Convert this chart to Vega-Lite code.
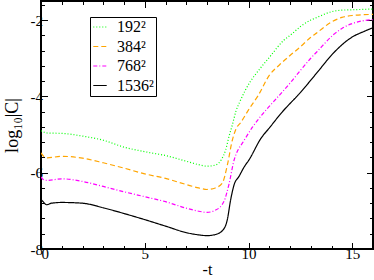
{
  "$schema": "https://vega.github.io/schema/vega-lite/v6.json",
  "autosize": {"type": "none"},
  "padding": {"left": 41, "top": 1, "right": 1, "bottom": 31},
  "width": 332,
  "height": 248,
  "background": "white",
  "config": {
    "font": "Liberation Serif",
    "view": {"stroke": "black", "strokeWidth": 2},
    "axis": {
      "grid": false, "domain": false, "tickColor": "black", "tickWidth": 1,
      "labelColor": "black", "titleColor": "black",
      "labelFont": "Liberation Serif", "titleFont": "Liberation Serif",
      "labelFontSize": 15, "titleFontSize": 18, "titleFontWeight": "normal"
    },
    "legend": {"labelFont": "Liberation Serif"}
  },
  "resolve": {"axis": {"x": "independent", "y": "independent"}},
  "layer": [
    {
      "data": {"values": [
        {"s": "192²", "x": 0, "y": -4.9}, {"s": "192²", "x": 0.3, "y": -4.96}, {"s": "192²", "x": 1, "y": -4.97}, {"s": "192²", "x": 2, "y": -5.04}, {"s": "192²", "x": 3, "y": -5.15}, {"s": "192²", "x": 4, "y": -5.33}, {"s": "192²", "x": 5, "y": -5.45}, {"s": "192²", "x": 6, "y": -5.55}, {"s": "192²", "x": 7, "y": -5.7}, {"s": "192²", "x": 7.6, "y": -5.79}, {"s": "192²", "x": 8, "y": -5.83}, {"s": "192²", "x": 8.4, "y": -5.8}, {"s": "192²", "x": 8.7, "y": -5.65}, {"s": "192²", "x": 8.9, "y": -5.4}, {"s": "192²", "x": 9.06, "y": -5.05}, {"s": "192²", "x": 9.22, "y": -4.75}, {"s": "192²", "x": 9.4, "y": -4.38}, {"s": "192²", "x": 9.6, "y": -4.12}, {"s": "192²", "x": 10.1, "y": -3.6}, {"s": "192²", "x": 10.3, "y": -3.45}, {"s": "192²", "x": 11, "y": -2.98}, {"s": "192²", "x": 11.7, "y": -2.53}, {"s": "192²", "x": 12.05, "y": -2.38}, {"s": "192²", "x": 12.53, "y": -2.16}, {"s": "192²", "x": 13, "y": -2.0}, {"s": "192²", "x": 13.3, "y": -1.93}, {"s": "192²", "x": 14, "y": -1.78}, {"s": "192²", "x": 14.5, "y": -1.74}, {"s": "192²", "x": 15, "y": -1.73}, {"s": "192²", "x": 16, "y": -1.71},
        {"s": "384²", "x": 0, "y": -5.48}, {"s": "384²", "x": 0.15, "y": -5.58}, {"s": "384²", "x": 0.3, "y": -5.61}, {"s": "384²", "x": 1, "y": -5.57}, {"s": "384²", "x": 2, "y": -5.62}, {"s": "384²", "x": 3, "y": -5.74}, {"s": "384²", "x": 4, "y": -5.88}, {"s": "384²", "x": 5, "y": -6.03}, {"s": "384²", "x": 6, "y": -6.15}, {"s": "384²", "x": 7, "y": -6.31}, {"s": "384²", "x": 7.6, "y": -6.4}, {"s": "384²", "x": 8, "y": -6.44}, {"s": "384²", "x": 8.4, "y": -6.4}, {"s": "384²", "x": 8.74, "y": -6.27}, {"s": "384²", "x": 8.98, "y": -5.8}, {"s": "384²", "x": 9.22, "y": -5.15}, {"s": "384²", "x": 9.4, "y": -4.85}, {"s": "384²", "x": 9.63, "y": -4.68}, {"s": "384²", "x": 10.1, "y": -4.27}, {"s": "384²", "x": 10.44, "y": -4.0}, {"s": "384²", "x": 11, "y": -3.45}, {"s": "384²", "x": 11.5, "y": -3.17}, {"s": "384²", "x": 12, "y": -2.93}, {"s": "384²", "x": 12.5, "y": -2.7}, {"s": "384²", "x": 13, "y": -2.45}, {"s": "384²", "x": 13.3, "y": -2.33}, {"s": "384²", "x": 14, "y": -2.05}, {"s": "384²", "x": 14.5, "y": -1.93}, {"s": "384²", "x": 15, "y": -1.88}, {"s": "384²", "x": 16, "y": -1.85},
        {"s": "768²", "x": 0, "y": -6.11}, {"s": "768²", "x": 0.15, "y": -6.19}, {"s": "768²", "x": 0.3, "y": -6.2}, {"s": "768²", "x": 1, "y": -6.16}, {"s": "768²", "x": 2, "y": -6.23}, {"s": "768²", "x": 3, "y": -6.36}, {"s": "768²", "x": 4, "y": -6.5}, {"s": "768²", "x": 5, "y": -6.63}, {"s": "768²", "x": 6, "y": -6.76}, {"s": "768²", "x": 7, "y": -6.93}, {"s": "768²", "x": 7.6, "y": -7.01}, {"s": "768²", "x": 8, "y": -7.04}, {"s": "768²", "x": 8.42, "y": -6.98}, {"s": "768²", "x": 8.82, "y": -6.75}, {"s": "768²", "x": 9.06, "y": -6.3}, {"s": "768²", "x": 9.31, "y": -5.66}, {"s": "768²", "x": 9.5, "y": -5.4}, {"s": "768²", "x": 9.71, "y": -5.22}, {"s": "768²", "x": 10.2, "y": -4.8}, {"s": "768²", "x": 10.84, "y": -4.36}, {"s": "768²", "x": 11.24, "y": -4.12}, {"s": "768²", "x": 12.05, "y": -3.62}, {"s": "768²", "x": 12.53, "y": -3.3}, {"s": "768²", "x": 13, "y": -3.0}, {"s": "768²", "x": 13.3, "y": -2.83}, {"s": "768²", "x": 14.1, "y": -2.38}, {"s": "768²", "x": 14.5, "y": -2.22}, {"s": "768²", "x": 14.95, "y": -2.1}, {"s": "768²", "x": 15.5, "y": -2.02}, {"s": "768²", "x": 16, "y": -1.99},
        {"s": "1536²", "x": 0, "y": -6.7}, {"s": "1536²", "x": 0.1, "y": -6.76}, {"s": "1536²", "x": 0.27, "y": -6.84}, {"s": "1536²", "x": 0.5, "y": -6.8}, {"s": "1536²", "x": 1, "y": -6.78}, {"s": "1536²", "x": 2, "y": -6.8}, {"s": "1536²", "x": 3, "y": -6.92}, {"s": "1536²", "x": 4, "y": -7.07}, {"s": "1536²", "x": 5, "y": -7.23}, {"s": "1536²", "x": 6, "y": -7.4}, {"s": "1536²", "x": 7, "y": -7.57}, {"s": "1536²", "x": 7.6, "y": -7.63}, {"s": "1536²", "x": 8, "y": -7.65}, {"s": "1536²", "x": 8.4, "y": -7.62}, {"s": "1536²", "x": 8.74, "y": -7.52}, {"s": "1536²", "x": 8.98, "y": -7.23}, {"s": "1536²", "x": 9.14, "y": -6.71}, {"s": "1536²", "x": 9.31, "y": -6.31}, {"s": "1536²", "x": 9.55, "y": -6.09}, {"s": "1536²", "x": 9.79, "y": -5.85}, {"s": "1536²", "x": 10.03, "y": -5.66}, {"s": "1536²", "x": 10.6, "y": -5.1}, {"s": "1536²", "x": 11, "y": -4.83}, {"s": "1536²", "x": 11.56, "y": -4.45}, {"s": "1536²", "x": 12.53, "y": -3.88}, {"s": "1536²", "x": 13.3, "y": -3.38}, {"s": "1536²", "x": 14.1, "y": -2.86}, {"s": "1536²", "x": 14.95, "y": -2.46}, {"s": "1536²", "x": 15.6, "y": -2.29}, {"s": "1536²", "x": 16, "y": -2.2}
      ]},
      "mark": {"type": "line", "strokeWidth": 1.2, "clip": true, "interpolate": "monotone"},
      "encoding": {
        "x": {"field": "x", "type": "quantitative", "scale": {"domain": [0, 16], "nice": false, "zero": false},
          "axis": {"orient": "bottom", "values": [0, 5, 10, 15], "tickSize": -6.5, "labelPadding": 4, "labelFont": "Liberation Serif", "title": "-t", "titleFont": "Liberation Serif", "titleFontSize": 16, "titlePadding": 0}},
        "y": {"field": "y", "type": "quantitative", "scale": {"domain": [-8, -1.5], "nice": false, "zero": false},
          "axis": {"orient": "left", "values": [-8, -6, -4, -2], "tickSize": -6.5, "labelPadding": 5, "labelFont": "Liberation Serif", "labelExpr": "'' + datum.value", "title": "log₁₀|C|", "titleFont": "Liberation Serif", "titlePadding": 9}},
        "color": {"field": "s", "type": "nominal",
          "scale": {"domain": ["192²", "384²", "768²", "1536²"], "range": ["#00ff00", "#ffa500", "#ff00ff", "#000000"]},
          "legend": {"title": null, "orient": "none", "legendX": 49, "legendY": 16, "fillColor": "white", "strokeColor": "black", "padding": 2, "rowPadding": 3.5, "labelFont": "Liberation Serif", "labelFontSize": 16, "labelColor": "black", "labelOffset": 9, "symbolType": "stroke", "symbolSize": 180, "symbolStrokeWidth": 1.2}},
        "strokeDash": {"field": "s", "type": "nominal",
          "scale": {"domain": ["192²", "384²", "768²", "1536²"], "range": [[1, 2], [5, 3], [4, 2, 1, 2], [1, 0]]},
          "legend": {"title": null, "orient": "none", "legendX": 49, "legendY": 16, "fillColor": "white", "strokeColor": "black", "padding": 2, "rowPadding": 3.5, "labelFont": "Liberation Serif", "labelFontSize": 16, "labelColor": "black", "labelOffset": 9, "symbolType": "stroke", "symbolSize": 180, "symbolStrokeWidth": 1.2}}
      }
    },
    {
      "data": {"values": [{"x": 0, "y": -8}]},
      "mark": {"type": "point", "opacity": 0},
      "encoding": {
        "x": {"field": "x", "type": "quantitative", "scale": {"domain": [0, 16], "nice": false, "zero": false},
          "axis": {"orient": "bottom", "values": [1, 2, 3, 4, 6, 7, 8, 9, 11, 12, 13, 14, 16], "tickSize": -3.5, "labels": false, "title": null}},
        "y": {"field": "y", "type": "quantitative", "scale": {"domain": [-8, -1.5], "nice": false, "zero": false},
          "axis": {"orient": "left", "values": [-7.6, -7.2, -6.8, -6.4, -5.6, -5.2, -4.8, -4.4, -3.6, -3.2, -2.8, -2.4, -1.6], "tickSize": -3.5, "labels": false, "title": null}}
      }
    },
    {
      "data": {"values": [{"x": 0, "y": -8}]},
      "mark": {"type": "point", "opacity": 0},
      "encoding": {
        "x": {"field": "x", "type": "quantitative", "scale": {"domain": [0, 16], "nice": false, "zero": false},
          "axis": {"orient": "top", "values": [0, 5, 10, 15], "tickSize": -6.5, "labels": false, "title": null}},
        "y": {"field": "y", "type": "quantitative", "scale": {"domain": [-8, -1.5], "nice": false, "zero": false},
          "axis": {"orient": "right", "values": [-8, -6, -4, -2], "tickSize": -6.5, "labels": false, "title": null}}
      }
    },
    {
      "data": {"values": [{"x": 0, "y": -8}]},
      "mark": {"type": "point", "opacity": 0},
      "encoding": {
        "x": {"field": "x", "type": "quantitative", "scale": {"domain": [0, 16], "nice": false, "zero": false},
          "axis": {"orient": "top", "values": [1, 2, 3, 4, 6, 7, 8, 9, 11, 12, 13, 14, 16], "tickSize": -3.5, "labels": false, "title": null}},
        "y": {"field": "y", "type": "quantitative", "scale": {"domain": [-8, -1.5], "nice": false, "zero": false},
          "axis": {"orient": "right", "values": [-7.6, -7.2, -6.8, -6.4, -5.6, -5.2, -4.8, -4.4, -3.6, -3.2, -2.8, -2.4, -1.6], "tickSize": -3.5, "labels": false, "title": null}}
      }
    }
  ]
}
